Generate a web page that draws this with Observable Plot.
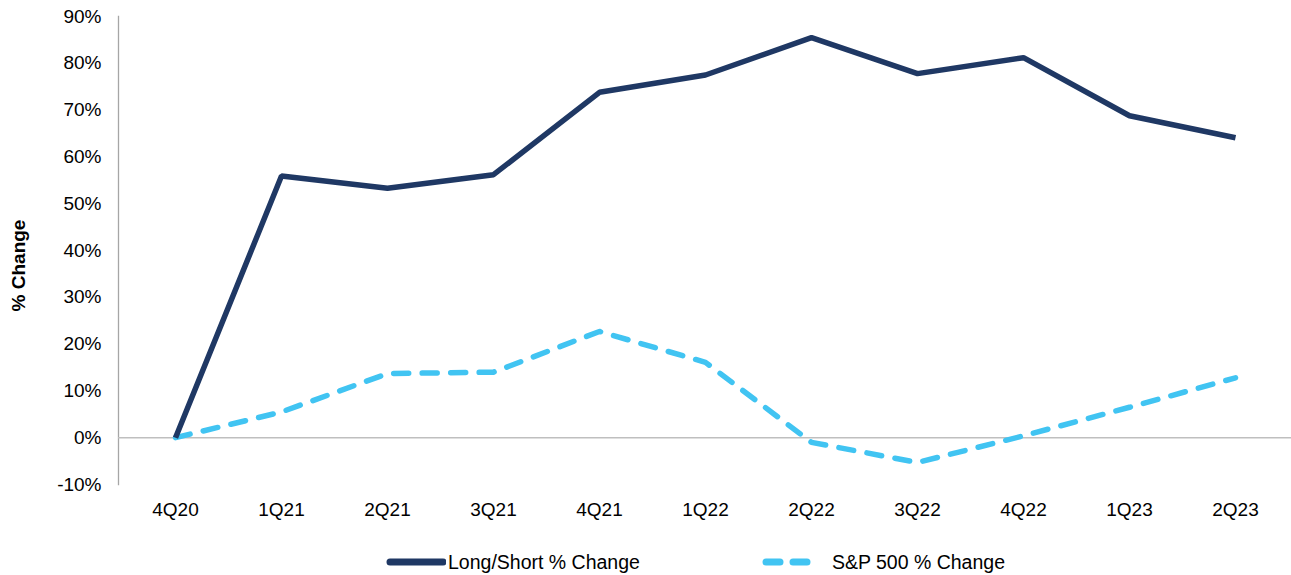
<!DOCTYPE html>
<html>
<head>
<meta charset="utf-8">
<script src="https://cdn.jsdelivr.net/npm/d3@7"></script>
<script src="https://cdn.jsdelivr.net/npm/@observablehq/plot@0.6"></script>
<style>
  html, body { margin: 0; padding: 0; background: #fff; }
  body { width: 1291px; height: 575px; overflow: hidden; font-family: "Liberation Sans", Arial, sans-serif; }
  #legend { display: flex; align-items: center; justify-content: center; padding-left: 100px; height: 40px; margin-top: 22px; font-size: 19.5px; color: #000; }
  .item { display: flex; align-items: center; }
  .item svg { display: block; margin-right: 2px; }
  .gap { width: 122px; }
</style>
</head>
<body>
<div id="chart"></div>
<div id="legend"></div>
<script>
const quarters = ["4Q20","1Q21","2Q21","3Q21","4Q21","1Q22","2Q22","3Q22","4Q22","1Q23","2Q23"];
const longShort = [0, 55.9, 53.3, 56.2, 73.8, 77.5, 85.5, 77.8, 81.2, 68.8, 64.1];
const sp500 = [0, 5.5, 13.7, 14.0, 22.7, 16.1, -1.0, -5.3, 0.4, 6.5, 12.8];
const yTicks = [-10, 0, 10, 20, 30, 40, 50, 60, 70, 80, 90];
const seriesNames = ["Long/Short % Change", "S&P 500 % Change"];
const colors = ["#1f3864", "#41c4f2"];

const lsData = quarters.map((q, i) => ({q, v: longShort[i]}));
const spData = quarters.map((q, i) => ({q, v: sp500[i]}));

const chart = Plot.plot({
  width: 1291,
  height: 520,
  marginLeft: 118,
  marginRight: 0,
  marginTop: 16,
  marginBottom: 36,
  style: {fontFamily: "'Liberation Sans', Arial, sans-serif", fontSize: "19px", color: "#000", background: "#fff"},
  x: {type: "point", domain: quarters, padding: 0.5, label: null},
  y: {domain: [-10, 90], label: null},
  marks: [
    Plot.frame({anchor: "left", stroke: "#a6a6a6", strokeWidth: 1.3}),
    Plot.ruleY([0], {stroke: "#bfbfbf", strokeWidth: 1.5}),
    Plot.axisY({ticks: yTicks, tickFormat: d => d + "%", tickSize: 0, tickPadding: 17, label: null, fill: "#000"}),
    Plot.axisX({tickSize: 0, tickPadding: 18, label: null, fill: "#000"}),
    Plot.text(["% Change"], {frameAnchor: "left", textAnchor: "middle", dx: -100, dy: 15, rotate: -90, fontWeight: "bold", fontSize: 19, fill: "#000"}),
    Plot.line(spData, {x: "q", y: "v", stroke: colors[1], strokeWidth: 5.5, strokeDasharray: "15 13.5", strokeLinecap: "round", strokeLinejoin: "round"}),
    Plot.line(lsData, {x: "q", y: "v", stroke: colors[0], strokeWidth: 5.5, strokeLinecap: "butt", strokeLinejoin: "miter"})
  ]
});
document.getElementById("chart").appendChild(chart);

const legend = document.getElementById("legend");
legend.innerHTML = `
  <div class="item"><svg width="60" height="10"><line x1="4" y1="5" x2="57" y2="5" stroke="${colors[0]}" stroke-width="7" stroke-linecap="round"/></svg><span>${seriesNames[0]}</span></div>
  <div class="gap"></div>
  <div class="item"><svg width="60" height="10"><line x1="4" y1="5" x2="51" y2="5" stroke="${colors[1]}" stroke-width="7" stroke-linecap="round" stroke-dasharray="14 13"/></svg><span style="margin-left:8px">${seriesNames[1]}</span></div>
`;
</script>
</body>
</html>
